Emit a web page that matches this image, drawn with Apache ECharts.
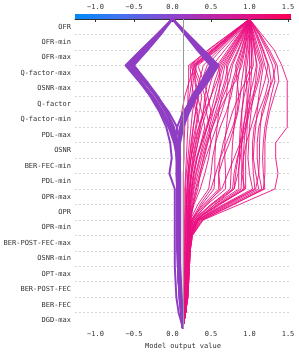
<!DOCTYPE html>
<html>
<head>
<meta charset="utf-8">
<script src="https://cdn.jsdelivr.net/npm/echarts@6/dist/echarts.min.js"></script>
<style>html,body{margin:0;padding:0;background:#fff}#c{width:299px;height:355px}</style>
</head>
<body>
<div id="c"></div>
<script>
// Feature names, top to bottom
const features = ["OFR","OFR-min","OFR-max","Q-factor-max","OSNR-max","Q-factor","Q-factor-min","PDL-max","OSNR","BER-FEC-min","PDL-min","OPR-max","OPR","OPR-min","BER-POST-FEC-max","OSNR-min","OPT-max","BER-POST-FEC","BER-FEC","DGD-max"];
const baseValue = 0.135;
const xTicks = [-1.0, -0.5, 0.0, 0.5, 1.0, 1.5];

// Cumulative model output at each row boundary, top (final output) to bottom (base value)
const pathsOutputLow = [
  [0,-0.2,-0.41,-0.61,-0.44,-0.28,-0.15,-0.05,0.02,0.06,0.07,0.07,0.07,0.07,0.07,0.07,0.08,0.08,0.09,0.11,0.135],
  [0,-0.19,-0.38,-0.58,-0.41,-0.25,-0.12,-0.02,0.04,0.07,0.08,0.08,0.08,0.08,0.08,0.08,0.09,0.09,0.1,0.12,0.135],
  [0,-0.17,-0.35,-0.54,-0.37,-0.22,-0.09,0.0,0.05,0.08,0.09,0.09,0.09,0.09,0.09,0.09,0.1,0.1,0.11,0.12,0.135],
  [0,-0.15,-0.32,-0.5,-0.34,-0.19,-0.07,0.02,0.07,0.09,0.1,0.1,0.1,0.1,0.1,0.1,0.1,0.11,0.12,0.13,0.135],
  [0,-0.2,-0.4,-0.6,-0.43,-0.29,-0.17,-0.08,-0.03,-0.01,-0.04,0.03,0.03,0.03,0.03,0.03,0.03,0.04,0.05,0.08,0.135],
  [0,-0.18,-0.37,-0.56,-0.38,-0.2,-0.05,0.06,0.09,0.1,0.09,0.08,0.08,0.08,0.08,0.08,0.09,0.09,0.1,0.12,0.135],
  [0,-0.19,-0.39,-0.59,-0.42,-0.26,-0.13,-0.03,0.03,0.07,0.08,0.08,0.08,0.08,0.08,0.08,0.08,0.09,0.1,0.12,0.135],
  [0,-0.16,-0.34,-0.52,-0.36,-0.21,-0.08,0.01,0.06,0.08,0.09,0.09,0.09,0.09,0.09,0.09,0.09,0.1,0.11,0.12,0.135],
  [0,0.2,0.4,0.6,0.47,0.32,0.22,0.14,0.1,0.08,0.08,0.08,0.08,0.08,0.08,0.08,0.09,0.09,0.1,0.12,0.135],
  [0,0.19,0.38,0.57,0.44,0.3,0.2,0.12,0.09,0.07,0.07,0.07,0.07,0.07,0.07,0.07,0.08,0.09,0.1,0.12,0.135],
  [0,0.17,0.35,0.53,0.41,0.27,0.18,0.11,0.08,0.07,0.06,0.07,0.07,0.07,0.07,0.07,0.08,0.09,0.1,0.12,0.135],
  [0,0.16,0.32,0.49,0.38,0.25,0.16,0.1,0.07,0.06,0.05,0.06,0.06,0.06,0.06,0.07,0.07,0.08,0.1,0.12,0.135],
  [0,0.2,0.4,0.59,0.45,0.28,0.14,0.06,0.04,0.05,0.06,0.06,0.06,0.06,0.06,0.06,0.07,0.08,0.09,0.11,0.135],
  [0,0.18,0.37,0.55,0.42,0.28,0.19,0.12,0.09,0.07,0.07,0.07,0.07,0.07,0.07,0.07,0.08,0.09,0.1,0.12,0.135],
  [0,0.17,0.33,0.51,0.4,0.26,0.17,0.1,0.08,0.06,0.06,0.06,0.06,0.06,0.06,0.07,0.07,0.08,0.1,0.12,0.135]
];
const pathsOutputHigh = [
  [1.0,0.74,0.47,0.21,0.21,0.2,0.2,0.2,0.19,0.18,0.17,0.16,0.16,0.16,0.16,0.16,0.16,0.16,0.15,0.15,0.135],
  [1.0,0.76,0.5,0.24,0.3,0.34,0.3,0.27,0.25,0.22,0.2,0.19,0.18,0.18,0.18,0.18,0.17,0.17,0.16,0.15,0.135],
  [1.0,0.75,0.52,0.28,0.36,0.42,0.4,0.34,0.3,0.26,0.24,0.22,0.21,0.2,0.2,0.2,0.19,0.18,0.17,0.16,0.135],
  [1.0,0.78,0.55,0.3,0.27,0.25,0.31,0.36,0.33,0.29,0.25,0.23,0.22,0.21,0.21,0.21,0.2,0.2,0.18,0.16,0.135],
  [1.0,0.8,0.58,0.33,0.4,0.46,0.5,0.45,0.38,0.32,0.28,0.25,0.23,0.22,0.22,0.22,0.21,0.2,0.19,0.17,0.135],
  [1.0,0.73,0.46,0.23,0.24,0.28,0.33,0.3,0.26,0.24,0.21,0.2,0.19,0.19,0.19,0.19,0.18,0.18,0.17,0.16,0.135],
  [1.0,0.77,0.53,0.26,0.33,0.38,0.35,0.31,0.28,0.24,0.22,0.21,0.2,0.2,0.19,0.19,0.19,0.18,0.17,0.16,0.135],
  [1.0,0.79,0.57,0.31,0.29,0.32,0.38,0.42,0.37,0.31,0.27,0.24,0.22,0.21,0.2,0.2,0.2,0.19,0.18,0.16,0.135],
  [1.0,0.9,0.78,0.66,0.6,0.55,0.5,0.44,0.38,0.32,0.28,0.25,0.23,0.22,0.21,0.21,0.2,0.2,0.19,0.17,0.135],
  [1.0,0.88,0.75,0.62,0.55,0.5,0.44,0.38,0.33,0.28,0.25,0.22,0.21,0.2,0.2,0.19,0.19,0.18,0.17,0.16,0.135],
  [1.0,0.92,0.82,0.72,0.68,0.62,0.56,0.5,0.44,0.38,0.33,0.28,0.25,0.23,0.22,0.22,0.21,0.2,0.19,0.17,0.135],
  [1.0,0.86,0.72,0.58,0.5,0.45,0.4,0.36,0.31,0.27,0.24,0.22,0.2,0.19,0.19,0.18,0.18,0.17,0.16,0.15,0.135],
  [1.0,0.9,0.8,0.7,0.72,0.7,0.64,0.57,0.5,0.43,0.37,0.31,0.27,0.24,0.22,0.21,0.21,0.2,0.19,0.17,0.135],
  [1.0,0.94,0.86,0.78,0.74,0.66,0.58,0.52,0.46,0.41,0.35,0.3,0.26,0.23,0.22,0.21,0.2,0.2,0.19,0.17,0.135],
  [1.0,0.87,0.74,0.6,0.62,0.6,0.52,0.45,0.4,0.35,0.3,0.26,0.23,0.21,0.2,0.2,0.19,0.19,0.18,0.16,0.135],
  [1.0,0.91,0.8,0.68,0.64,0.58,0.53,0.48,0.42,0.36,0.31,0.27,0.24,0.22,0.21,0.2,0.2,0.19,0.18,0.16,0.135],
  [1.0,1.0,1.0,1.0,1.0,0.98,0.97,0.97,0.96,0.95,0.95,0.95,0.6,0.3,0.22,0.21,0.2,0.2,0.19,0.17,0.135],
  [1.0,0.97,0.93,0.88,0.85,0.83,0.82,0.8,0.78,0.77,0.76,0.75,0.5,0.27,0.21,0.2,0.2,0.19,0.18,0.16,0.135],
  [1.0,1.03,1.06,1.1,1.08,1.05,1.02,1.0,0.99,0.98,1.0,1.04,0.66,0.33,0.24,0.22,0.21,0.2,0.19,0.17,0.135],
  [1.0,0.95,0.9,0.84,0.78,0.74,0.72,0.7,0.68,0.68,0.69,0.69,0.45,0.26,0.2,0.2,0.19,0.19,0.18,0.16,0.135],
  [1.0,1.02,1.04,1.05,0.98,0.93,0.9,0.88,0.87,0.87,0.86,0.86,0.55,0.3,0.22,0.21,0.21,0.2,0.19,0.17,0.135],
  [1.0,1.06,1.12,1.18,1.15,1.12,1.1,1.08,1.06,1.05,1.08,1.12,0.72,0.36,0.25,0.23,0.22,0.21,0.2,0.17,0.135],
  [1.0,0.98,0.96,0.93,0.9,0.88,0.85,0.8,0.74,0.66,0.6,0.6,0.4,0.24,0.2,0.19,0.19,0.18,0.17,0.16,0.135],
  [1.0,1.0,0.99,0.97,0.94,0.92,0.9,0.9,0.88,0.85,0.82,0.8,0.52,0.28,0.21,0.2,0.2,0.19,0.18,0.16,0.135],
  [1.0,1.04,1.08,1.14,1.1,1.04,0.98,0.95,0.93,0.92,0.92,0.92,0.6,0.31,0.23,0.22,0.21,0.2,0.19,0.17,0.135],
  [1.0,0.96,0.92,0.86,0.8,0.76,0.7,0.62,0.56,0.52,0.5,0.47,0.33,0.23,0.2,0.19,0.19,0.18,0.17,0.16,0.135],
  [1.0,1.01,1.02,1.03,1.02,1.01,0.99,0.94,0.88,0.8,0.72,0.64,0.42,0.25,0.21,0.2,0.19,0.19,0.18,0.16,0.135],
  [1.0,0.99,0.97,0.95,0.96,0.97,0.95,0.92,0.9,0.9,0.9,0.89,0.58,0.31,0.23,0.21,0.2,0.2,0.19,0.17,0.135],
  [1.0,1.16,1.32,1.42,1.49,1.49,1.49,1.49,1.34,1.34,1.37,1.33,0.87,0.4,0.26,0.23,0.22,0.21,0.2,0.17,0.135],
  [1.0,1.12,1.22,1.3,1.33,1.28,1.24,1.2,1.18,1.17,1.18,1.2,0.78,0.38,0.25,0.23,0.22,0.21,0.2,0.17,0.135],
  [1.0,1.1,1.18,1.25,1.28,1.24,1.18,1.12,1.1,1.1,1.12,1.16,0.75,0.36,0.24,0.22,0.21,0.2,0.19,0.17,0.135],
  [1.0,1.13,1.24,1.34,1.3,1.22,1.16,1.14,1.13,1.13,1.12,1.08,0.7,0.34,0.24,0.22,0.21,0.2,0.19,0.17,0.135],
  [1.0,1.08,1.15,1.2,1.25,1.2,1.12,1.06,1.04,1.04,1.05,1.07,0.68,0.33,0.23,0.22,0.21,0.2,0.19,0.17,0.135],
  [1.0,1.14,1.26,1.36,1.38,1.32,1.26,1.22,1.2,1.2,1.2,1.18,0.8,0.39,0.26,0.23,0.22,0.21,0.2,0.17,0.135],
  [1.0,0.82,0.63,0.45,0.38,0.33,0.3,0.27,0.24,0.22,0.2,0.19,0.18,0.18,0.17,0.17,0.17,0.16,0.16,0.15,0.135],
  [1.0,0.93,0.85,0.76,0.7,0.64,0.6,0.58,0.56,0.55,0.55,0.54,0.38,0.26,0.21,0.2,0.19,0.19,0.18,0.16,0.135],
  [1.0,1.05,1.1,1.16,1.12,1.06,1.0,0.96,0.9,0.84,0.8,0.78,0.5,0.3,0.22,0.21,0.2,0.2,0.19,0.17,0.135],
  [1.0,0.97,0.94,0.9,0.82,0.7,0.6,0.52,0.45,0.4,0.36,0.33,0.27,0.22,0.2,0.19,0.19,0.18,0.17,0.16,0.135],
  [1.0,0.84,0.68,0.52,0.46,0.42,0.44,0.48,0.5,0.47,0.42,0.36,0.28,0.22,0.2,0.19,0.18,0.18,0.17,0.16,0.135],
  [1.0,1.02,1.03,1.02,0.95,0.86,0.78,0.72,0.66,0.62,0.6,0.62,0.44,0.28,0.22,0.21,0.2,0.19,0.18,0.16,0.135],
  [1.0,1.09,1.17,1.24,1.2,1.14,1.08,1.02,0.96,0.92,0.9,0.94,0.62,0.34,0.24,0.22,0.21,0.2,0.19,0.17,0.135],
  [1.0,0.76,0.52,0.27,0.25,0.22,0.18,0.16,0.15,0.15,0.14,0.14,0.14,0.14,0.14,0.14,0.14,0.14,0.14,0.14,0.135],
  [1.0,0.89,0.77,0.64,0.58,0.5,0.42,0.34,0.28,0.24,0.21,0.19,0.18,0.17,0.17,0.16,0.16,0.16,0.15,0.15,0.135],
  [1.0,0.95,0.89,0.82,0.84,0.86,0.84,0.78,0.7,0.62,0.56,0.5,0.36,0.25,0.21,0.2,0.19,0.19,0.18,0.16,0.135],
  [1.0,1.04,1.07,1.09,1.05,1.0,0.96,0.92,0.9,0.88,0.85,0.8,0.55,0.32,0.23,0.21,0.2,0.2,0.19,0.17,0.135],
  [1.0,0.8,0.6,0.4,0.35,0.3,0.26,0.24,0.22,0.2,0.18,0.17,0.17,0.16,0.16,0.16,0.16,0.15,0.15,0.15,0.135],
  [1.0,0.77,0.54,0.29,0.22,0.16,0.12,0.1,0.1,0.1,0.1,0.1,0.1,0.1,0.1,0.1,0.1,0.11,0.12,0.13,0.135]
];

const FONT = 'DejaVu Sans Mono';
const X_MIN = -1.266, X_MAX = 1.539;
const fmt = v => (v < 0 ? '\u2212' : '') + Math.abs(v).toFixed(1);

const chart = echarts.init(document.getElementById('c'), null, {renderer: 'canvas'});

const series = [];
pathsOutputHigh.forEach((p, k) => {
  const s = {
    type: 'line', xAxisIndex: 0, yAxisIndex: 0, symbol: 'none', silent: true,
    lineStyle: {color: '#ea1080', width: 0.9},
    data: p.map((v, i) => [v, i])
  };
  if (k === 0) {
    s.markLine = {
      silent: true, symbol: 'none', label: {show: false},
      lineStyle: {color: '#999', width: 1, type: 'solid'},
      data: [{xAxis: baseValue}]
    };
  }
  series.push(s);
});
pathsOutputLow.forEach(p => {
  series.push({
    type: 'line', xAxisIndex: 0, yAxisIndex: 0, symbol: 'none', silent: true,
    lineStyle: {color: '#8f3ec4', width: 2},
    data: p.map((v, i) => [v, i])
  });
});

chart.setOption({
  animation: false,
  grid: {left: 75, right: 8, top: 19, bottom: 24},
  xAxis: [
    {
      type: 'value', position: 'bottom', min: X_MIN, max: X_MAX,
      axisLine: {show: true, lineStyle: {color: '#333', width: 1}},
      axisTick: {show: true, customValues: xTicks, length: 3, lineStyle: {color: '#333'}},
      axisLabel: {customValues: xTicks, formatter: fmt, fontFamily: FONT, fontSize: 7, color: '#333', margin: 3},
      splitLine: {show: false},
      name: 'Model output value', nameLocation: 'middle', nameGap: 11,
      nameTextStyle: {fontFamily: FONT, fontSize: 7, color: '#333'}
    },
    {
      type: 'value', position: 'top', min: X_MIN, max: X_MAX,
      axisLine: {show: false}, axisTick: {show: false},
      axisLabel: {customValues: xTicks, formatter: fmt, fontFamily: FONT, fontSize: 7, color: '#333', margin: 8},
      splitLine: {show: false}
    }
  ],
  yAxis: [
    {
      type: 'value', min: 0, max: 20, interval: 1, inverse: true,
      axisLine: {show: false}, axisTick: {show: false}, axisLabel: {show: false},
      splitLine: {show: true, showMinLine: false, showMaxLine: false, lineStyle: {color: '#cccccc', type: [2, 2], width: 0.8}}
    },
    {
      type: 'category', data: features, inverse: true, position: 'left', boundaryGap: true,
      axisLine: {show: false}, axisTick: {show: false}, splitLine: {show: false},
      axisLabel: {fontFamily: FONT, fontSize: 7, color: '#333', margin: 4, interval: 0}
    }
  ],
  graphic: [{
    type: 'rect', shape: {x: 75, y: 14, width: 216, height: 5}, silent: true,
    style: {fill: new echarts.graphic.LinearGradient(0, 0, 1, 0, [
      {offset: 0, color: '#008bfb'},
      {offset: 0.2, color: '#3f74f0'},
      {offset: 0.4, color: '#7d4fd6'},
      {offset: 0.5, color: '#9a3cc4'},
      {offset: 0.6, color: '#b52aae'},
      {offset: 0.8, color: '#df1289'},
      {offset: 1, color: '#ff0052'}
    ])}
  }],
  series: series
});
</script>
</body>
</html>
